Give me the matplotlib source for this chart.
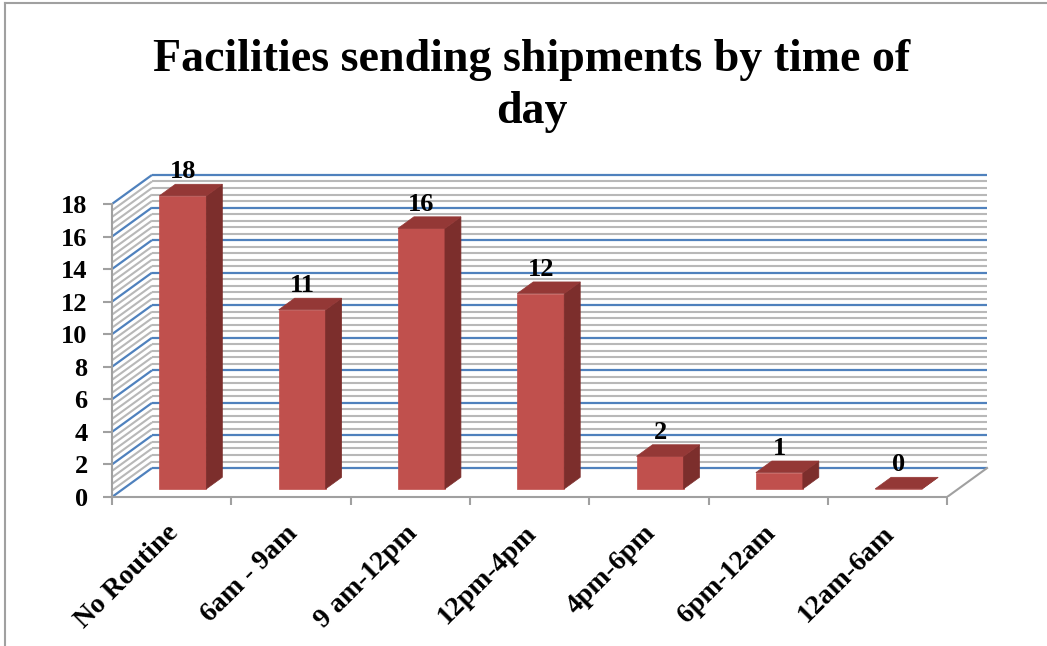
import numpy as np
import matplotlib.pyplot as plt
from matplotlib.lines import Line2D

categories = ['No Routine', '6am - 9am', '9 am-12pm', '12pm-4pm',
              '4pm-6pm', '6pm-12am', '12am-6am']
facilities = [18, 11, 16, 12, 2, 1, 0]
title = 'Facilities sending shipments by time of\nday'

yticks = np.arange(0, 19, 2)
minor_ticks = np.arange(0, 18.01, 0.4)

# fake 3d: depth offset of the back wall in data units
DX, DY = 0.335, 1.78
D0, D1 = 0.28, 0.68        # bar front / back depth fraction
BAR_W = 0.394

FRONT = '#C0504D'
SIDE = '#7C2E2C'
TOP = '#943836'
BLUE = '#4F81BD'
GRID = '#B8B8B8'
AXIS = '#A0A0A0'
FONT = 'Liberation Serif'

def P(x, y, d):
    return (x + d * DX, y + d * DY)

W, H = 1047, 646
fig = plt.figure(figsize=(W / 100, H / 100), dpi=100)
xspan, yspan = 119.3, 16.28
xlim, ylim = (0, 7.45), (0, 20.5)
ax = fig.add_axes([112 / W, (H - 497) / H,
                   (xlim[1] - xlim[0]) * xspan / W,
                   (ylim[1] - ylim[0]) * yspan / H])
ax.set_xlim(*xlim)
ax.set_ylim(*ylim)
ax.patch.set_visible(False)
n = len(categories)

# back wall and left wall gridlines
for v in minor_ticks:
    major = np.isclose(v % 2, 0) or np.isclose(v % 2, 2)
    col, lw, z = (BLUE, 1.6, 1.5) if major else (GRID, 1.5, 1)
    xs, ys = zip(P(0, v, 1), P(n, v, 1))
    ax.plot(xs, ys, color=col, lw=lw, zorder=z, solid_capstyle='butt')
    xs, ys = zip(P(0, v, 0), P(0, v, 1))
    ax.plot(xs, ys, color=col, lw=lw, zorder=z, solid_capstyle='butt')

# floor right edge
xs, ys = zip(P(n, 0, 0), P(n, 0, 1))
ax.plot(xs, ys, color=AXIS, lw=1.5, zorder=2)

# bars
for i, v in enumerate(facilities):
    xc = i + 0.5
    l, r = xc - BAR_W / 2, xc + BAR_W / 2
    front = [P(l, 0, D0), P(r, 0, D0), P(r, v, D0), P(l, v, D0)]
    side = [P(r, 0, D0), P(r, 0, D1), P(r, v, D1), P(r, v, D0)]
    top = [P(l, v, D0), P(r, v, D0), P(r, v, D1), P(l, v, D1)]
    for pts, c in ((front, FRONT), (side, SIDE), (top, TOP)):
        ax.fill(*zip(*pts), color=c, lw=0.5, ec=c, zorder=3)
    ax.annotate(str(v), xy=P(xc, v, D0), xycoords='data',
                xytext=(0, 9), textcoords='offset points',
                ha='center', va='bottom', fontsize=19, fontweight='bold',
                family=FONT, zorder=4)
    ax.annotate(categories[i], xy=(xc, 0), xycoords='data',
                xytext=(-4, -17), textcoords='offset points',
                ha='right', va='top', rotation=45, rotation_mode='anchor',
                fontsize=20, fontweight='bold', family=FONT)

# axes
for s in ('top', 'right'):
    ax.spines[s].set_visible(False)
ax.spines['left'].set_bounds(0, 18)
ax.spines['bottom'].set_bounds(0, n)
for s in ('left', 'bottom'):
    ax.spines[s].set_color(AXIS)
    ax.spines[s].set_linewidth(1.5)
    ax.spines[s].set_zorder(2)
ax.set_yticks(yticks)
ax.set_yticklabels([str(t) for t in yticks], fontsize=19,
                   fontweight='bold', family=FONT)
ax.set_xticks(np.arange(n + 1))
ax.set_xticklabels([])
ax.tick_params(axis='y', length=6.5, width=1.5, color=AXIS, pad=11)
ax.tick_params(axis='x', length=5.5, width=1.5, color=AXIS)

fig.text(0.508, 1 - 86 / H, title, ha='center', va='center', fontsize=33,
         fontweight='bold', family=FONT, linespacing=1.3)

# chart frame
fig.add_artist(Line2D([5 / W, 5 / W], [0, 1 - 3 / H], transform=fig.transFigure,
                      color=AXIS, lw=1.5))
fig.add_artist(Line2D([5 / W, 1], [1 - 3 / H, 1 - 3 / H], transform=fig.transFigure,
                      color=AXIS, lw=1.5))

fig.savefig('out.png', dpi=100)
